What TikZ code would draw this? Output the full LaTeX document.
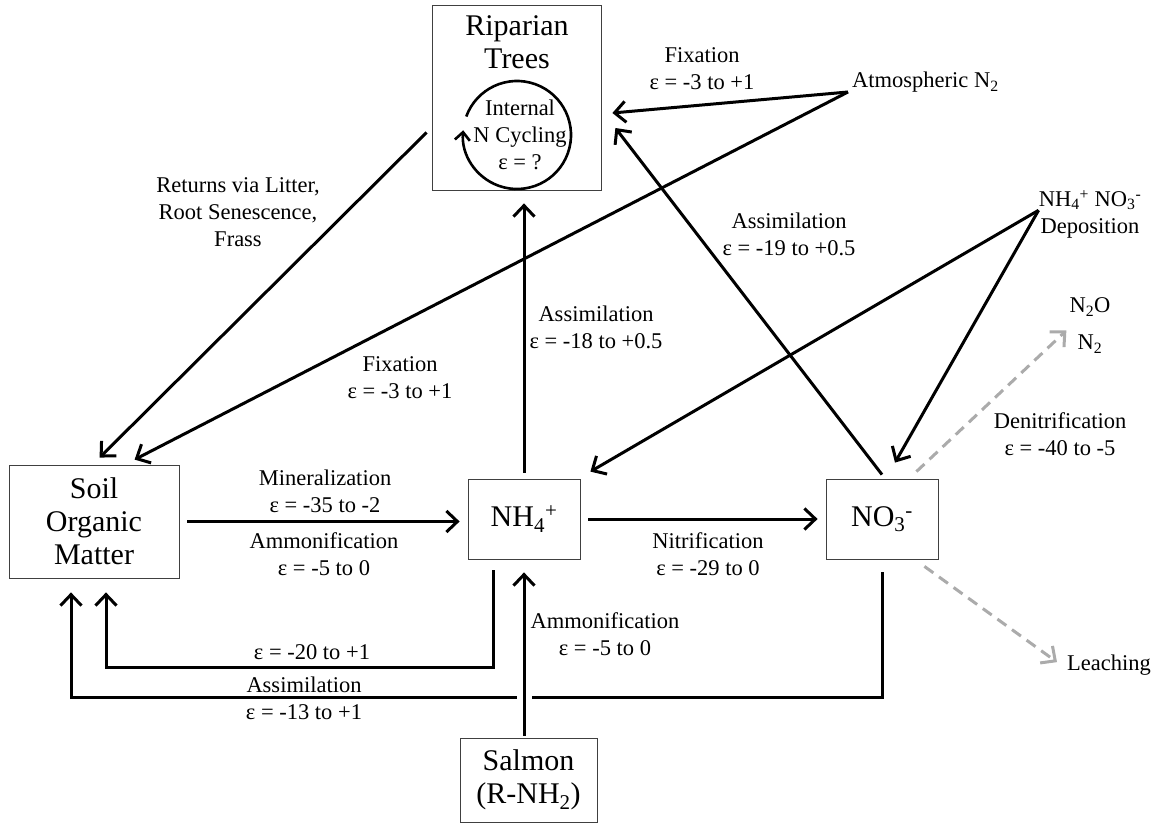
\documentclass[tikz,border=0pt]{standalone}
\usepackage{fontspec}
\setmainfont{Liberation Serif}
\usetikzlibrary{arrows.meta,positioning}
\tikzset
{
    pool/.style   = {rectangle, draw=black!75, line width=0.8pt, align=center, font=\fontsize{30}{33}\selectfont},
    note/.style   = {align=center, inner sep=0pt, font=\fontsize{22.5}{27}\selectfont},
    flow/.style   = {line width=3pt, -{Straight Barb[length=11pt, width=21pt]}},
    loss/.style   = {flow, draw=black!33, dash pattern=on 11pt off 7pt},
    bridge/.style = {preaction={draw=white, line width=15pt, -}},
    spin/.style   = {line width=2.6pt, -{Straight Barb[length=8pt, width=15pt]}}
}

\begin{document}
\begin{tikzpicture}[x=1pt, y=1pt]
\useasboundingbox (0,0) rectangle (1159,823);
\node [pool, minimum width=169pt, minimum height=185pt] at (516.5,725.5) (trees) {};
\node [pool, draw=none, inner sep=0pt, anchor=north] at (517,808) (treetitle) {Riparian\\Trees};
\node [note, anchor=north] at (520,723.3) (cyc) {Internal\\N Cycling\\ε = ?};
\coordinate (hub) at (517,688);
\draw [spin] ([shift={(160:54)}]hub) arc [start angle=160, end angle=-185, radius=54];
\node [pool, minimum width=170pt, minimum height=113pt] at (94,301.5) (som) {Soil\\Organic\\Matter};
\node [pool, minimum width=112pt, minimum height=80pt] at (524,304) (nh4) {NH\textsubscript{4}\textsuperscript{+}};
\node [pool, minimum width=112pt, minimum height=80pt] at (882,304) (no3) {NO\textsubscript{3}\textsuperscript{-}};
\node [pool, minimum width=137pt, minimum height=84pt] at (528.5,43) (salmon) {Salmon\\(R-NH\textsubscript{2})};
\node [note, anchor=base west] at (852,735) (atm) {Atmospheric N\textsubscript{2}};
\node [note, anchor=north] at (1090,633) (dep) {NH\textsubscript{4}\textsuperscript{+} NO\textsubscript{3}\textsuperscript{-}\\Deposition};
\node [note, anchor=north] at (1090,525.3) (gas) {N\textsubscript{2}O\\[10pt]N\textsubscript{2}};
\node [note, anchor=north west] at (1067,168.3) (leach) {Leaching};
\draw [flow] ([shift={(-5,58)}]trees.south west) -- ([shift={(91,7)}]som.north west);
\draw [flow] ([shift={(-4,-4)}]atm.base west) -- ([shift={(11,-15.5)}]trees.east);
\draw [flow] ([shift={(-4,-4)}]atm.base west) -- ([shift={(126,5)}]som.north west);
\draw [flow] ([yshift=4]no3.north) -- ([shift={(14,-30.5)}]trees.east);
\draw [flow] ([yshift=4]dep.west) -- ([shift={(10,7)}]nh4.north east);
\draw [flow] ([yshift=4]dep.west) -- ([shift={(13,16)}]no3.north);
\draw [flow] ([xshift=8]som.east) -- ([xshift=-8]som.east -| nh4.west);
\draw [flow] ([xshift=8]nh4.east) -- ([xshift=-8]no3.west);
\draw [flow] ([yshift=6]nh4.north) -- ([yshift=-13]nh4.north |- trees.south);
\draw [flow] ([shift={(-31,-11)}]nh4.south) -- ++(0,-97) -| ([shift={(12,-14)}]som.south);
\draw [flow] ([yshift=-13]no3.south) -- ++(0,-125) -| ([shift={(-23,-14)}]som.south);
\draw [flow, bridge] ([yshift=2]salmon.north -| nh4.south) -- ([yshift=-13]nh4.south);
\draw [loss] ([shift={(-22,7)}]no3.north east) -- ([shift={(-3,-5)}]gas.west);
\draw [loss] ([shift={(-14,-7)}]no3.south east) -- ([shift={(-10,3)}]leach.west);
\node [note, anchor=north] at (702,775.3) (fixtrees) {Fixation\\ε = -3 to +1};
\node [note, anchor=north] at (238,645.3) (returns) {Returns via Litter,\\Root Senescence,\\Frass};
\node [note, anchor=north] at (789,610.3) (assimno3) {Assimilation\\ε = -19 to +0.5};
\node [note, anchor=north] at (596,517.3) (assimnh4) {Assimilation\\ε = -18 to +0.5};
\node [note, anchor=north] at (400,466.3) (fixsoil) {Fixation\\ε = -3 to +1};
\node [note, anchor=north] at (325,353.3) (miner) {Mineralization\\ε = -35 to -2};
\node [note, anchor=north] at (324,290.3) (ammsoil) {Ammonification\\ε = -5 to 0};
\node [note, anchor=north] at (708,290.3) (nitri) {Nitrification\\ε = -29 to 0};
\node [note, anchor=north] at (1060,410.3) (denit) {Denitrification\\ε = -40 to -5};
\node [note, anchor=north] at (605,210.3) (ammsal) {Ammonification\\ε = -5 to 0};
\node [note, anchor=north] at (312,178.3) (retnh4) {ε = -20 to +1};
\node [note, anchor=north] at (304,146.3) (assimsoil) {Assimilation\\ε = -13 to +1};
\end{tikzpicture}
\end{document}
